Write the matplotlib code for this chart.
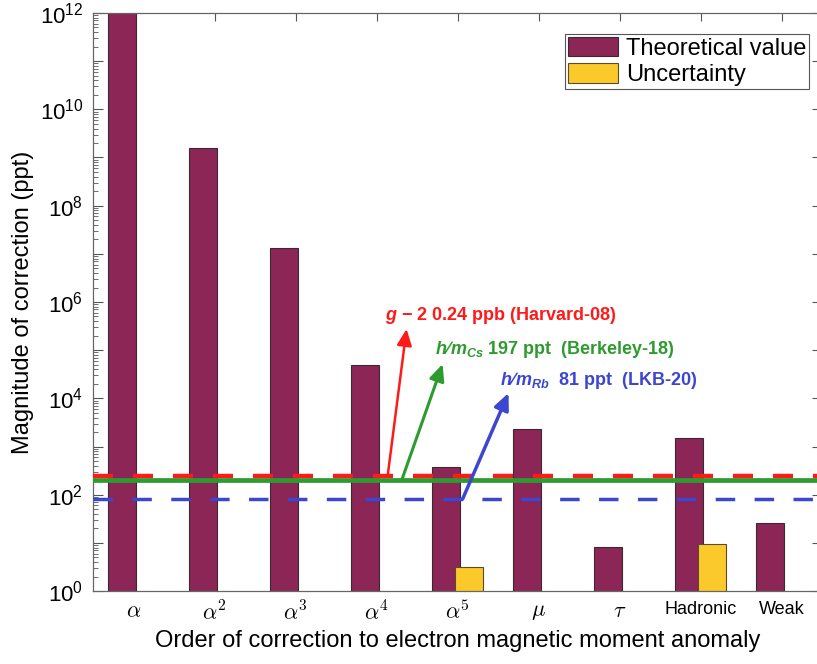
import numpy as np
import matplotlib
matplotlib.use("Agg")
import matplotlib.pyplot as plt
from matplotlib.ticker import LogLocator, FuncFormatter, NullFormatter

plt.rcParams['font.family'] = ['Liberation Sans', 'DejaVu Sans']
plt.rcParams['mathtext.fontset'] = 'custom'
plt.rcParams['mathtext.it'] = 'Liberation Sans:bold:italic'
plt.rcParams['mathtext.rm'] = 'Liberation Sans:bold'
plt.rcParams['mathtext.bf'] = 'Liberation Sans:bold'

# ---- data (ppt) ----
categories = [r'$\alpha$', r'$\alpha^{\mathsf{2}}$', r'$\alpha^{\mathsf{3}}$',
              r'$\alpha^{\mathsf{4}}$', r'$\alpha^{\mathsf{5}}$', r'$\mu$',
              r'$\tau$', 'Hadronic', 'Weak']
theoretical = [1.16e12, 1.6e9, 1.35e7, 5.0e4, 380, 2340, 8.2, 1520, 26]
uncertainty = [0, 0, 0, 0.01, 3.2, 0.01, 0.01, 9.5, 0.01]

meas_labels = ['$g$ \u2212 2 0.24 ppb (Harvard-08)',
               r'$h\!\slash\!m_{Cs}$ 197 ppt  (Berkeley-18)',
               r'$h\!\slash\!m_{Rb}$  81 ppt  (LKB-20)']
meas_values = [240, 197, 81]
meas_colors = ['#FF1A1A', '#2E9B2E', '#3C46D0']

W, H = 817, 664
fig = plt.figure(figsize=(W / 100, H / 100), dpi=100)
ax = fig.add_axes([93 / W, 73 / H, (822 - 93) / W, (591 - 13) / H])

x = np.arange(1, len(categories) + 1)
bw = 0.345
off = 0.142
ax.bar(x - off, theoretical, bw, color='#8B2657', edgecolor='#3a2a30',
       linewidth=0.8, label='Theoretical value', zorder=2)
ax.bar(x + off, uncertainty, bw, color='#FCC92A', edgecolor='#5a4a30',
       linewidth=0.8, label='Uncertainty', zorder=2.1)

ax.set_yscale('log')
ax.set_ylim(1, 1e12)
ax.set_xlim(0.5, 9.5)

# measurement lines
ax.axhline(meas_values[0], color=meas_colors[0], lw=3.2, dashes=(4.5, 4.5), zorder=3)
ax.axhline(meas_values[1], color=meas_colors[1], lw=3.4, zorder=3.1)
ax.axhline(meas_values[2], color=meas_colors[2], lw=2.5, dashes=(5.6, 5.6), zorder=3.2)

# annotations
arrow_tail_x = [4.137, 4.31, 5.063]
arrow_tip = [(4.371, 2.75e5), (4.816, 5.15e4), (5.63, 1.29e4)]
text_pos = [(4.10, 5.2e5), (4.717, 1.04e5), (5.53, 2.4e4)]
arrow_lw = [1.8, 2.2, 2.5]
for i in range(3):
    ax.annotate('', xy=arrow_tip[i], xytext=(arrow_tail_x[i], meas_values[i]),
                arrowprops=dict(arrowstyle='-|>,head_length=0.55,head_width=0.25',
                                color=meas_colors[i], lw=arrow_lw[i],
                                shrinkA=0, shrinkB=0, mutation_scale=18),
                zorder=4)
    ax.text(text_pos[i][0], text_pos[i][1], meas_labels[i], color=meas_colors[i],
            fontsize=13, fontweight='bold', ha='left', va='center', zorder=5)

# ticks
ax.set_xticks(x)
ax.set_xticklabels(categories, fontsize=13, math_fontfamily='cm')
for lbl in ax.get_xticklabels()[:7]:
    lbl.set_fontsize(16)
ax.yaxis.set_major_locator(LogLocator(base=10, numticks=20))
ax.yaxis.set_minor_locator(LogLocator(base=10, subs=np.arange(2, 10), numticks=20))
ax.yaxis.set_minor_formatter(NullFormatter())


def yfmt(v, pos):
    e = int(round(np.log10(v)))
    if e % 2 == 0:
        return r'$\mathregular{10^{%d}}$' % e
    return ''


ax.yaxis.set_major_formatter(FuncFormatter(yfmt))
ax.tick_params(axis='y', which='major', direction='in', length=7, width=0.8,
               labelsize=16, pad=7, right=True, colors='#555555', labelcolor='black')
ax.tick_params(axis='y', which='minor', direction='in', length=3.5, width=0.6,
               right=True, colors='#555555')
ax.tick_params(axis='x', which='major', direction='in', length=6, width=0.8,
               top=True, pad=7, colors='#555555', labelcolor='black')
for s in ax.spines.values():
    s.set_color('#666666')
    s.set_linewidth(0.9)

ax.set_ylabel('Magnitude of correction (ppt)', fontsize=17, labelpad=4)
ax.set_xlabel('Order of correction to electron magnetic moment anomaly', fontsize=17,
              labelpad=4)

leg = ax.legend(loc='upper right', bbox_to_anchor=(809 / W, 1 - 34 / H),
                bbox_transform=fig.transFigure, borderaxespad=0, fontsize=17,
                handlelength=2.1, handleheight=0.9, labelspacing=0.15, borderpad=0.12,
                handletextpad=0.35, fancybox=False, framealpha=1, edgecolor='#555555')
leg.get_frame().set_linewidth(0.8)
leg.set_zorder(6)

fig.savefig('out.png', dpi=100)
